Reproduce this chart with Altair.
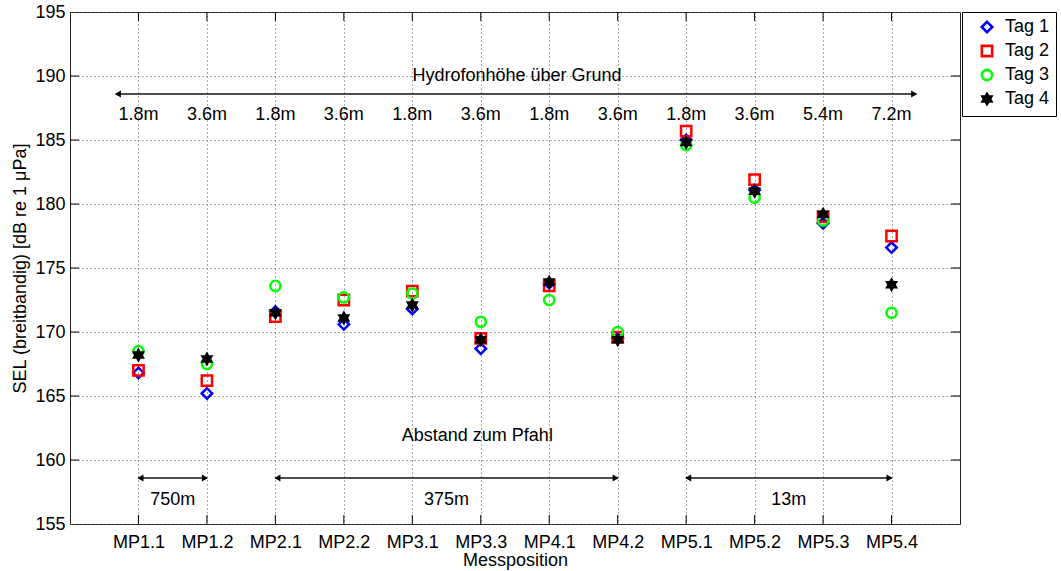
import json
import altair as alt
import pandas as pd

positions = ["MP1.1", "MP1.2", "MP2.1", "MP2.2", "MP3.1", "MP3.3",
             "MP4.1", "MP4.2", "MP5.1", "MP5.2", "MP5.3", "MP5.4"]
heights = ["1.8m", "3.6m", "1.8m", "3.6m", "1.8m", "3.6m",
           "1.8m", "3.6m", "1.8m", "3.6m", "5.4m", "7.2m"]
tags = ["Tag 1", "Tag 2", "Tag 3", "Tag 4"]
tag1 = [166.8, 165.2, 171.6, 170.6, 171.8, 168.7, 173.8, 169.5, 185.0, 181.1, 178.5, 176.6]
tag2 = [167.0, 166.2, 171.2, 172.5, 173.2, 169.5, 173.6, 169.6, 185.7, 181.9, 179.0, 177.5]
tag3 = [168.5, 167.5, 173.6, 172.7, 173.0, 170.8, 172.5, 170.0, 184.6, 180.5, 178.7, 171.5]
tag4 = [168.2, 167.9, 171.5, 171.1, 172.1, 169.4, 173.9, 169.4, 184.8, 181.0, 179.2, 173.7]
series = [tag1, tag2, tag3, tag4]

# distance groups: start index, end index, label
dist_start = [1, 3, 9]
dist_end = [2, 8, 12]
dist_label = ["750m", "375m", "13m"]

y_ticks = list(range(155, 196, 5))

rows = []
for t, vals in zip(tags, series):
    for i, v in enumerate(vals):
        rows.append({"pos": i + 1, "tag": t, "sel": v})
df = pd.DataFrame(rows)

FONT = "Liberation Sans"
FS = 18
hexagram = ("M0,-1L0.2887,-0.5L0.866,-0.5L0.577,0L0.866,0.5L0.2887,0.5L0,1"
            "L-0.2887,0.5L-0.866,0.5L-0.577,0L-0.866,-0.5L-0.2887,-0.5Z")

xscale = alt.Scale(domain=[0, 13], nice=False, zero=False)
yscale = alt.Scale(domain=[155, 195], nice=False, zero=False)

label_expr = json.dumps(positions) + "[datum.value - 1]"

xenc = alt.X("pos:Q", scale=xscale,
             axis=alt.Axis(values=list(range(1, 13)), labelExpr=label_expr,
                           title="Messposition", grid=True, tickSize=0,
                           labelPadding=9, titlePadding=0))
yenc = alt.Y("sel:Q", scale=yscale,
             axis=alt.Axis(values=y_ticks,
                           title="SEL (breitbandig) [dB re 1 \u03bcPa]",
                           grid=True, tickSize=0, labelPadding=5, titlePadding=5))

legend = alt.Legend(title=None, orient="none", legendX=892, legendY=0,
                    strokeColor="black", fillColor="white", padding=6,
                    labelFontSize=FS, labelFont=FONT, symbolSize=100,
                    symbolStrokeWidth=2.6, rowPadding=2, labelOffset=9,
                    symbolOffset=10, cornerRadius=0)

tag_scale_stroke = alt.Scale(domain=tags, range=["#0000ff", "#ff0000", "#00ff00", "#000000"])
tag_scale_fill = alt.Scale(domain=tags, range=["transparent", "transparent", "transparent", "#000000"])
tag_scale_shape = alt.Scale(domain=tags, range=["diamond", "square", "circle", hexagram])
tag_scale_size = alt.Scale(domain=tags, range=[110, 100, 115, 75])

points = alt.Chart(df).mark_point(strokeWidth=2.5, opacity=1).encode(
    x=xenc,
    y=yenc,
    stroke=alt.Stroke("tag:N", scale=tag_scale_stroke, legend=legend),
    fill=alt.Fill("tag:N", scale=tag_scale_fill, legend=legend),
    shape=alt.Shape("tag:N", scale=tag_scale_shape, legend=legend),
    size=alt.Size("tag:N", scale=tag_scale_size, legend=legend),
    order=alt.Order("tagidx:Q"),
).transform_calculate(tagidx="indexof(" + json.dumps(tags) + ", datum.tag)")

hdf = pd.DataFrame({"pos": list(range(1, 13)), "lab": heights, "sel": [186.95] * 12})
htext = alt.Chart(hdf).mark_text(fontSize=FS, font=FONT, color="black").encode(
    x=alt.X("pos:Q", scale=xscale), y=alt.Y("sel:Q", scale=yscale), text="lab:N")

adf = pd.DataFrame({
    "pos": [6.53, 5.95] + [(a + b) / 2 for a, b in zip(dist_start, dist_end)],
    "sel": [190.0, 161.9, 156.9, 156.9, 156.9],
    "lab": ["Hydrofonh\u00f6he \u00fcber Grund", "Abstand zum Pfahl"] + dist_label,
})
atext = alt.Chart(adf).mark_text(fontSize=FS, font=FONT, color="black").encode(
    x=alt.X("pos:Q", scale=xscale), y=alt.Y("sel:Q", scale=yscale), text="lab:N")

arr = pd.DataFrame({
    "x1": [0.67] + dist_start,
    "x2": [12.36] + dist_end,
    "sel": [188.6, 158.6, 158.6, 158.6],
})
arrow_lines = alt.Chart(arr).mark_rule(color="#111111", strokeWidth=1.5).encode(
    x=alt.X("x1:Q", scale=xscale), x2="x2:Q", y=alt.Y("sel:Q", scale=yscale))
heads_l = alt.Chart(arr).mark_point(shape="triangle-left", filled=True, color="black",
                                    size=50, opacity=1, xOffset=2).encode(
    x=alt.X("x1:Q", scale=xscale), y=alt.Y("sel:Q", scale=yscale))
heads_r = alt.Chart(arr).mark_point(shape="triangle-right", filled=True, color="black",
                                    size=50, opacity=1, xOffset=-2).encode(
    x=alt.X("x2:Q", scale=xscale), y=alt.Y("sel:Q", scale=yscale))

# inward tick marks on all four sides of the box
xt = pd.DataFrame({"pos": list(range(1, 13))})
xticks_b = alt.Chart(xt).mark_rule(color="black", strokeWidth=1).encode(
    x=alt.X("pos:Q", scale=xscale), y=alt.value(512), y2=alt.value(503))
xticks_t = alt.Chart(xt).mark_rule(color="black", strokeWidth=1).encode(
    x=alt.X("pos:Q", scale=xscale), y=alt.value(0), y2=alt.value(9))
yt = pd.DataFrame({"sel": y_ticks[1:-1]})
yticks_l = alt.Chart(yt).mark_rule(color="black", strokeWidth=1).encode(
    y=alt.Y("sel:Q", scale=yscale), x=alt.value(0), x2=alt.value(9))
yticks_r = alt.Chart(yt).mark_rule(color="black", strokeWidth=1).encode(
    y=alt.Y("sel:Q", scale=yscale), x=alt.value(890), x2=alt.value(881))

chart = alt.layer(xticks_b, xticks_t, yticks_l, yticks_r,
                  arrow_lines, heads_l, heads_r, htext, atext, points).properties(
    width=890, height=512,
    autosize=alt.AutoSizeParams(type="none"),
    padding={"left": 70, "top": 12, "right": 101, "bottom": 47},
).configure_view(stroke="#222222", strokeWidth=1).configure_axis(
    labelFont=FONT, titleFont=FONT, labelFontSize=FS, titleFontSize=FS,
    labelColor="black", titleColor="black", titleFontWeight="normal",
    gridColor="#555555", gridDash=[1, 3], gridWidth=1, domain=False,
).configure_legend(labelColor="black")

chart.save("out.html", embed_options={"renderer": "svg", "actions": False})
